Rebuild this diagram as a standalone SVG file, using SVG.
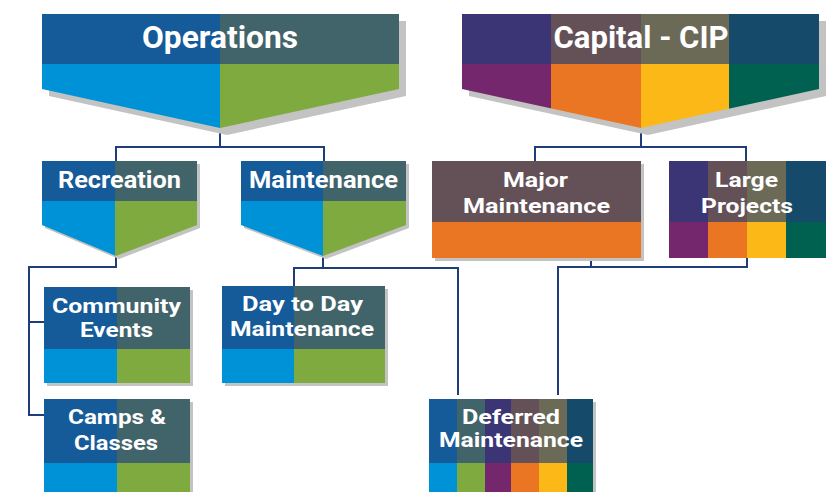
<svg xmlns="http://www.w3.org/2000/svg" xmlns:xlink="http://www.w3.org/1999/xlink" width="826" height="492" viewBox="0 0 826 492">
  <style>
    .shadow { fill: #c3c3c3; }
    .c-navy { fill: #155a99; }
    .c-teal { fill: #41646a; }
    .c-sky { fill: #0092d6; }
    .c-green { fill: #7faa40; }
    .c-indigo { fill: #3b3576; }
    .c-mauve { fill: #645157; }
    .c-olive { fill: #6b6a57; }
    .c-petrol { fill: #164a6b; }
    .c-plum { fill: #74276d; }
    .c-orange { fill: #ea7623; }
    .c-gold { fill: #fbb817; }
    .c-forest { fill: #006150; }
    .label { fill: #ffffff; font-family: Roboto, "Liberation Sans", sans-serif; font-weight: bold; text-anchor: middle; }
    .big { font-size: 32px; }
    .mid { font-size: 23px; }
    .two { font-size: 20px; }
    .link { fill: none; stroke: #1f3d7a; stroke-width: 2; }
  </style>
  <defs>
    <clipPath id="clip-ops"><polygon points="42,14 399,14 399,89 220,128 42,89"/></clipPath>
    <clipPath id="clip-cip"><polygon points="462,14 819,14 819,89 641,128 462,89"/></clipPath>
    <clipPath id="clip-rec"><polygon points="42,161 197,161 197,225 116,256 42,225"/></clipPath>
    <clipPath id="clip-mnt"><polygon points="241,161 406,161 406,225 323,256 241,225"/></clipPath>
  </defs>

  <rect width="826" height="492" fill="#ffffff"/>

  <!-- connectors -->
  <g id="connectors">
    <polyline class="link" points="220,128 220,147"/>
    <polyline class="link" points="116,161 116,147 324,147 324,161"/>
    <polyline class="link" points="641,128 641,147"/>
    <polyline class="link" points="535,161 535,147 746,147 746,161"/>
    <polyline class="link" points="116,256 116,267 29,267 29,415 44,415"/>
    <polyline class="link" points="29,322 44,322"/>
    <polyline class="link" points="323,256 323,268"/>
    <polyline class="link" points="294,287 294,268 458,268 458,395"/>
    <polyline class="link" points="591,258 591,267"/>
    <polyline class="link" points="558,395 558,267 747,267 747,258"/>
  </g>

  <!-- Operations -->
  <g id="operations">
    <polygon class="shadow" points="49,21 406,21 406,96 227,135 49,96"/>
    <g clip-path="url(#clip-ops)">
      <rect class="c-navy" x="42" y="14" width="178" height="50"/>
      <rect class="c-teal" x="220" y="14" width="179" height="50"/>
      <rect class="c-sky" x="42" y="64" width="178" height="64"/>
      <rect class="c-green" x="220" y="64" width="179" height="64"/>
    </g>
    <text class="label big" x="220" y="48" textLength="156" lengthAdjust="spacingAndGlyphs">Operations</text>
  </g>

  <!-- Capital - CIP -->
  <g id="capital-cip">
    <polygon class="shadow" points="469,21 826,21 826,96 648,135 469,96"/>
    <g clip-path="url(#clip-cip)">
      <rect class="c-indigo" x="462" y="14" width="89" height="50"/>
      <rect class="c-mauve" x="551" y="14" width="90" height="50"/>
      <rect class="c-olive" x="641" y="14" width="88" height="50"/>
      <rect class="c-petrol" x="729" y="14" width="90" height="50"/>
      <rect class="c-plum" x="462" y="64" width="89" height="64"/>
      <rect class="c-orange" x="551" y="64" width="90" height="64"/>
      <rect class="c-gold" x="641" y="64" width="88" height="64"/>
      <rect class="c-forest" x="729" y="64" width="90" height="64"/>
    </g>
    <text class="label big" x="641" y="48" textLength="175" lengthAdjust="spacingAndGlyphs">Capital - CIP</text>
  </g>

  <!-- Recreation -->
  <g id="recreation">
    <polygon class="shadow" points="45,164 200,164 200,228 119,259 45,228"/>
    <g clip-path="url(#clip-rec)">
      <rect class="c-navy" x="42" y="161" width="73" height="40"/>
      <rect class="c-teal" x="115" y="161" width="82" height="40"/>
      <rect class="c-sky" x="42" y="201" width="73" height="56"/>
      <rect class="c-green" x="115" y="201" width="82" height="56"/>
    </g>
    <text class="label mid" x="119.5" y="188" textLength="123" lengthAdjust="spacingAndGlyphs">Recreation</text>
  </g>

  <!-- Maintenance -->
  <g id="maintenance">
    <polygon class="shadow" points="244,164 409,164 409,228 326,259 244,228"/>
    <g clip-path="url(#clip-mnt)">
      <rect class="c-navy" x="241" y="161" width="82" height="40"/>
      <rect class="c-teal" x="323" y="161" width="83" height="40"/>
      <rect class="c-sky" x="241" y="201" width="82" height="56"/>
      <rect class="c-green" x="323" y="201" width="83" height="56"/>
    </g>
    <text class="label mid" x="323.5" y="188" textLength="149" lengthAdjust="spacingAndGlyphs">Maintenance</text>
  </g>

  <!-- Major Maintenance -->
  <g id="major-maintenance">
    <rect class="shadow" x="435" y="164" width="209" height="97"/>
    <rect class="c-mauve" x="432" y="161" width="209" height="61"/>
    <rect class="c-orange" x="432" y="222" width="209" height="36"/>
    <text class="label two" x="535.5" y="187" textLength="65" lengthAdjust="spacingAndGlyphs">Major</text>
    <text class="label two" x="536.5" y="213" textLength="147" lengthAdjust="spacingAndGlyphs">Maintenance</text>
  </g>

  <!-- Large Projects -->
  <g id="large-projects">
    <rect class="c-indigo" x="669" y="161" width="39" height="61"/>
    <rect class="c-mauve" x="708" y="161" width="39" height="61"/>
    <rect class="c-olive" x="747" y="161" width="39" height="61"/>
    <rect class="c-petrol" x="786" y="161" width="40" height="61"/>
    <rect class="c-plum" x="669" y="222" width="39" height="36"/>
    <rect class="c-orange" x="708" y="222" width="39" height="36"/>
    <rect class="c-gold" x="747" y="222" width="39" height="36"/>
    <rect class="c-forest" x="786" y="222" width="40" height="36"/>
    <text class="label two" x="746.5" y="187" textLength="63" lengthAdjust="spacingAndGlyphs">Large</text>
    <text class="label two" x="747" y="213" textLength="92" lengthAdjust="spacingAndGlyphs">Projects</text>
  </g>

  <!-- Community Events -->
  <g id="community-events">
    <rect class="shadow" x="47" y="290" width="146" height="96"/>
    <rect class="c-navy" x="44" y="287" width="73" height="62"/>
    <rect class="c-teal" x="117" y="287" width="73" height="62"/>
    <rect class="c-sky" x="44" y="349" width="73" height="34"/>
    <rect class="c-green" x="117" y="349" width="73" height="34"/>
    <text class="label two" x="116.5" y="313" textLength="129" lengthAdjust="spacingAndGlyphs">Community</text>
    <text class="label two" x="116.5" y="337" textLength="73" lengthAdjust="spacingAndGlyphs">Events</text>
  </g>

  <!-- Camps & Classes -->
  <g id="camps-classes">
    <rect class="shadow" x="47" y="402" width="146" height="92"/>
    <rect class="c-navy" x="44" y="399" width="73" height="64"/>
    <rect class="c-teal" x="117" y="399" width="73" height="64"/>
    <rect class="c-sky" x="44" y="463" width="73" height="29"/>
    <rect class="c-green" x="117" y="463" width="73" height="29"/>
    <text class="label two" x="117" y="424" textLength="98" lengthAdjust="spacingAndGlyphs">Camps &amp;</text>
    <text class="label two" x="116" y="450" textLength="84" lengthAdjust="spacingAndGlyphs">Classes</text>
  </g>

  <!-- Day to Day Maintenance -->
  <g id="day-to-day-maintenance">
    <rect class="shadow" x="225" y="289" width="163" height="97"/>
    <rect class="c-navy" x="222" y="286" width="72" height="63"/>
    <rect class="c-teal" x="294" y="286" width="91" height="63"/>
    <rect class="c-sky" x="222" y="349" width="72" height="34"/>
    <rect class="c-green" x="294" y="349" width="91" height="34"/>
    <text class="label two" x="302.5" y="311" textLength="121" lengthAdjust="spacingAndGlyphs">Day to Day</text>
    <text class="label two" x="302" y="336" textLength="144" lengthAdjust="spacingAndGlyphs">Maintenance</text>
  </g>

  <!-- Deferred Maintenance -->
  <g id="deferred-maintenance">
    <rect class="shadow" x="432" y="402" width="164" height="92"/>
    <rect class="c-navy" x="429" y="399" width="28" height="64"/>
    <rect class="c-teal" x="457" y="399" width="28" height="64"/>
    <rect class="c-indigo" x="485" y="399" width="26" height="64"/>
    <rect class="c-mauve" x="511" y="399" width="28" height="64"/>
    <rect class="c-olive" x="539" y="399" width="28" height="64"/>
    <rect class="c-petrol" x="567" y="399" width="26" height="64"/>
    <rect class="c-sky" x="429" y="463" width="28" height="29"/>
    <rect class="c-green" x="457" y="463" width="28" height="29"/>
    <rect class="c-plum" x="485" y="463" width="26" height="29"/>
    <rect class="c-orange" x="511" y="463" width="28" height="29"/>
    <rect class="c-gold" x="539" y="463" width="28" height="29"/>
    <rect class="c-forest" x="567" y="463" width="26" height="29"/>
    <text class="label two" x="511" y="424" textLength="98" lengthAdjust="spacingAndGlyphs">Deferred</text>
    <text class="label two" x="511" y="447" textLength="144" lengthAdjust="spacingAndGlyphs">Maintenance</text>
  </g>
</svg>
